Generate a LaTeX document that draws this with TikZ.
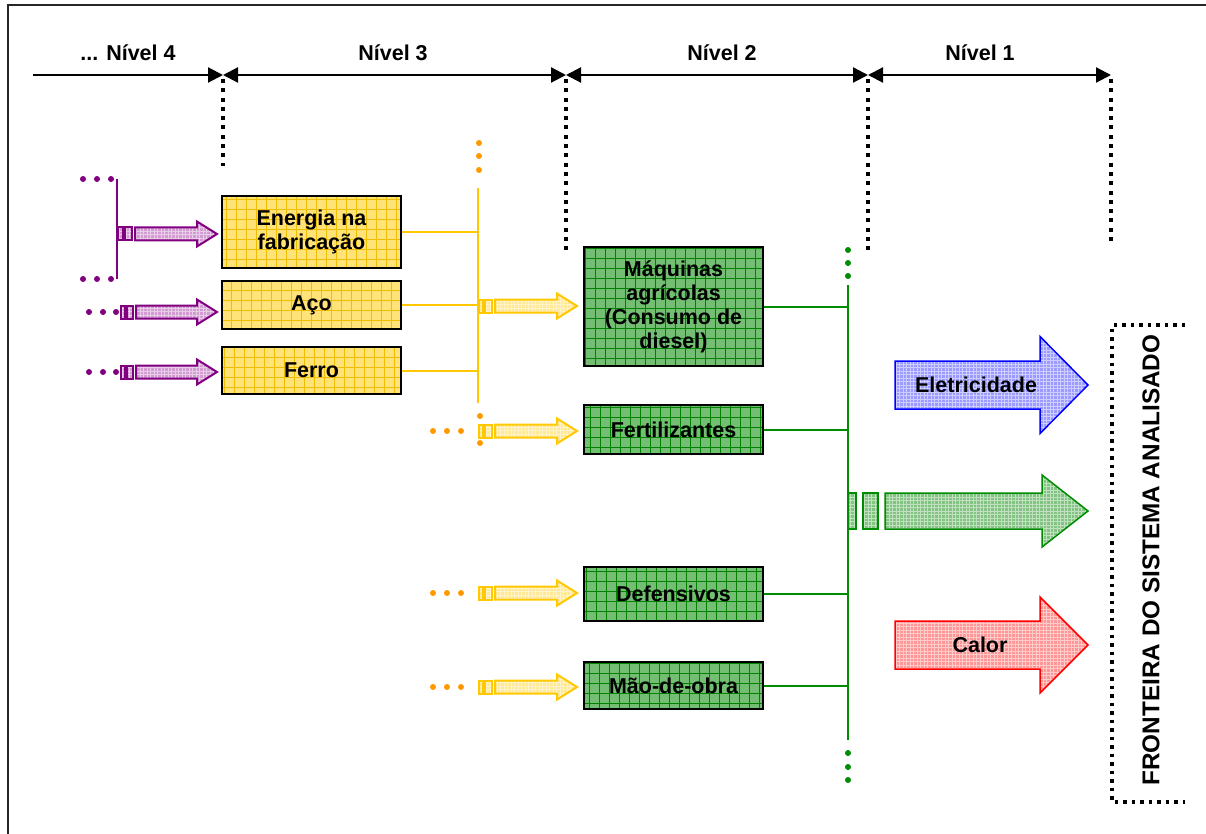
\documentclass[tikz,border=0pt]{standalone}
\usepackage{fontspec}
\setmainfont{Liberation Sans}
\usetikzlibrary{arrows.meta}
\definecolor{yfill}{RGB}{255,226,120}
\definecolor{ygrid}{RGB}{240,190,0}
\definecolor{gfill}{RGB}{115,190,115}
\definecolor{ggrid}{RGB}{0,130,0}
\definecolor{ybus}{RGB}{255,200,0}
\definecolor{odot}{RGB}{255,153,0}
\definecolor{purp}{RGB}{128,0,128}
\definecolor{purpfill}{RGB}{210,155,210}
\definecolor{yarr}{RGB}{255,232,150}
\definecolor{dgreen}{RGB}{0,140,0}
\definecolor{garr}{RGB}{130,195,130}
\definecolor{barr}{RGB}{155,155,255}
\definecolor{rarr}{RGB}{255,150,150}
\newcommand{\blkarrow}[7]{\draw[#1] (#2,{#5-#6}) -- (#3,{#5-#6}) -- (#3,{#5-#7}) -- (#4,#5) -- (#3,{#5+#7}) -- (#3,{#5+#6}) -- (#2,{#5+#6}) -- cycle;}
\newcommand{\blkpiece}[5]{\draw[#1] (#2,{#4-#5}) rectangle (#3,{#4+#5});}
\tikzset{
  txt/.style={font=\bfseries\fontsize{21.5}{24}\selectfont, align=center},
  lvl/.style={line width=2.2pt, black},
  sepdots/.style={line width=4pt, dash pattern=on 4pt off 5.3pt, black},
  bnddots/.style={line width=3.5pt, dash pattern=on 3.5pt off 5pt, black},
  tex/.style={path picture={\draw[white, opacity=0.5, line width=0.5pt, step=3.5pt] (path picture bounding box.south west) grid (path picture bounding box.north east);}},
  ybox/.style={txt, draw=black, line width=2pt, fill=yfill, minimum width=179pt, inner sep=0pt,
    path picture={\draw[ygrid, line width=0.6pt, step=10pt] (path picture bounding box.south west) grid (path picture bounding box.north east);}},
  gbox/.style={txt, draw=black, line width=2pt, fill=gfill, minimum width=179pt, inner sep=0pt,
    path picture={\draw[ggrid, line width=0.6pt, step=10pt] (path picture bounding box.south west) grid (path picture bounding box.north east);}},
  yline/.style={ybus, line width=2pt},
  gline/.style={dgreen, line width=2pt},
  pline/.style={purp, line width=2.2pt},
  yarrow/.style={draw=ybus, line width=2pt, fill=yarr, tex},
  parrow/.style={draw=purp, line width=2pt, fill=purpfill, tex},
  garrow/.style={draw=dgreen, line width=1.5pt, fill=garr, tex},
  barrow/.style={draw=blue, line width=1.5pt, fill=barr, tex},
  rarrow/.style={draw=red, line width=1.5pt, fill=rarr, tex},
}
\begin{document}
\begin{tikzpicture}[x=1pt,y=-1pt]
\useasboundingbox (0,0) rectangle (1206,834);
% frame
\draw[line width=2pt, black!85] (8,834) -- (8,5) -- (1206,5);
% level header
\coordinate (s0) at (33,75);
\coordinate (s1) at (223,75);
\coordinate (s2) at (566,75);
\coordinate (s3) at (868,75);
\coordinate (s4) at (1111,75);
\draw[lvl, -{Triangle[length=15pt,width=15pt]}] (s0) -- (s1);
\draw[lvl, {Triangle[length=15pt,width=15pt]}-{Triangle[length=15pt,width=15pt]}] (s1) -- (s2);
\draw[lvl, {Triangle[length=15pt,width=15pt]}-{Triangle[length=15pt,width=15pt]}] (s2) -- (s3);
\draw[lvl, {Triangle[length=15pt,width=15pt]}-{Triangle[length=15pt,width=15pt]}] (s3) -- (s4);
\draw[sepdots] ([yshift=-4pt]s1) -- (223,166);
\draw[sepdots] ([yshift=-4pt]s2) -- (566,250);
\draw[sepdots] ([yshift=-4pt]s3) -- (868,250);
\draw[sepdots] ([yshift=-4pt]s4) -- (1111,242);
\node[txt] (n4) at (128,53) {... Nível 4};
\node[txt] (n3) at (393,53) {Nível 3};
\node[txt] (n2) at (722,53) {Nível 2};
\node[txt] (n1) at (980,53) {Nível 1};
% level 3 boxes
\node[ybox, minimum height=72pt] (ener) at (311.5,232) {Energia na\\fabricação};
\node[ybox, minimum height=48pt] (aco) at (311.5,305) {Aço};
\node[ybox, minimum height=47pt] (ferro) at (311.5,370.5) {Ferro};
% level 2 boxes
\node[gbox, minimum height=119pt] (maq) at (673.5,306.5) {Máquinas\\agrícolas\\(Consumo de\\diesel)};
\node[gbox, minimum height=49pt] (fert) at (673.5,429.5) {Fertilizantes};
\node[gbox, minimum height=54pt] (def) at (673.5,594) {Defensivos};
\node[gbox, minimum height=47pt] (mao) at (673.5,685.5) {Mão-de-obra};
% yellow bus
\coordinate (ybt) at (478,188);
\coordinate (ybb) at (478,403);
\draw[yline] (ybt) -- (ybb);
\draw[yline] (ener.east) -- (ener.east -| ybt);
\draw[yline] (aco.east) -- (aco.east -| ybt);
\draw[yline] (ferro.east) -- (ferro.east -| ybt);
\foreach \y in {143,156,170} \fill[odot] (479,\y) circle (3pt);
\foreach \y in {416,443} \fill[odot] (480,\y) circle (3pt);
% yellow block arrows
\foreach \y in {306,431,593,687}{
  \blkpiece{yarrow}{479}{483}{\y}{6.5}
  \blkpiece{yarrow}{485}{492}{\y}{6.5}
  \blkarrow{yarrow}{495}{557}{577}{\y}{6.5}{12.5}
}
\foreach \y in {431,593,687}{
  \foreach \x in {433,447,461} \fill[odot] (\x,\y) circle (3pt);
}
% purple part
\draw[pline] (117,179) -- (117,279);
\foreach \x in {83,97,111}{\fill[purp] (\x,179) circle (3pt); \fill[purp] (\x,279) circle (3pt);}
\blkpiece{parrow}{118}{123}{234}{6.5}
\blkpiece{parrow}{125}{132}{234}{6.5}
\blkarrow{parrow}{135}{197}{217}{234}{6.5}{12.5}
\foreach \y in {312,372}{
  \foreach \x in {89,103,116} \fill[purp] (\x,\y) circle (3pt);
  \blkpiece{parrow}{121}{125}{\y}{6.5}
  \blkpiece{parrow}{127}{133}{\y}{6.5}
  \blkarrow{parrow}{136}{197}{217}{\y}{6.5}{12.5}
}
% green bus
\coordinate (gbt) at (848,285);
\coordinate (gbb) at (848,740);
\draw[gline] (gbt) -- (gbb);
\draw[gline] (maq.east) -- (maq.east -| gbt);
\draw[gline] (fert.east) -- (fert.east -| gbt);
\draw[gline] (def.east) -- (def.east -| gbt);
\draw[gline] (mao.east) -- (mao.east -| gbt);
\foreach \y in {250,263,276,753,767,780} \fill[dgreen] (848,\y) circle (3pt);
% output arrows
\blkpiece{garrow}{848}{856}{511}{18}
\blkpiece{garrow}{863}{878}{511}{18}
\blkarrow{garrow}{885}{1042}{1088}{511}{18}{36}
\blkarrow{barrow}{895}{1040}{1088}{385}{24}{48.5}
\blkarrow{rarrow}{895}{1040}{1088}{645}{24}{48}
\node[txt] (elet) at (976,385) {Eletricidade};
\node[txt] (calor) at (980,645) {Calor};
% boundary
\draw[bnddots] (1185,325) -- (1112,325) -- (1112,802) -- (1185,802);
\node[font=\bfseries\fontsize{24.3}{28}\selectfont, rotate=90] (front) at (1151,560) {FRONTEIRA DO SISTEMA ANALISADO};
\end{tikzpicture}
\end{document}
